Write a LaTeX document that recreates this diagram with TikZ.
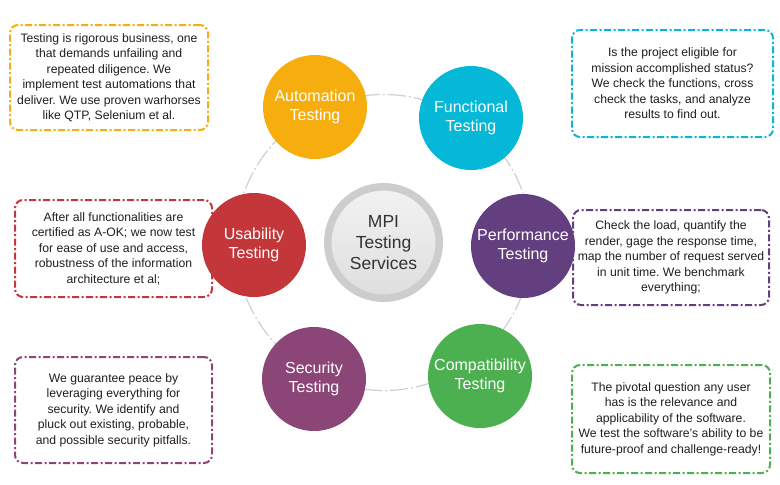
\documentclass[tikz,border=0pt]{standalone}
\usepackage{fontspec}
\setmainfont{Liberation Sans}
\usetikzlibrary{backgrounds}
\frenchspacing
\definecolor{Ink}{HTML}{1E1E1E}
\definecolor{HubInk}{HTML}{333333}
\definecolor{Ring}{HTML}{CDCDCD}
\definecolor{Orbit}{HTML}{CFCFCF}
\definecolor{Orange}{HTML}{F6AE0E}
\definecolor{Cyan}{HTML}{06B8D7}
\definecolor{Red}{HTML}{C3363A}
\definecolor{Purple}{HTML}{643F80}
\definecolor{Plum}{HTML}{8C4577}
\definecolor{Green}{HTML}{4CAF50}

\begin{document}
\begin{tikzpicture}[
  x=1pt,y=-1pt,
  notetext/.style={font=\fontsize{12.2}{15.5}\selectfont,text=Ink,align=center,inner sep=0pt},
  noteorange/.style={notetext,draw=Orange,rounded corners=8pt,line width=2pt,dash pattern=on 7pt off 2.5pt on 2pt off 2.5pt},
  notecyan/.style={notetext,draw=Cyan,rounded corners=8pt,line width=2pt,dash pattern=on 7pt off 2.5pt on 2pt off 2.5pt},
  notered/.style={notetext,draw=Red,rounded corners=8pt,line width=2pt,dash pattern=on 7pt off 2.5pt on 2pt off 2.5pt},
  notepurple/.style={notetext,draw=Purple,rounded corners=8pt,line width=2pt,dash pattern=on 7pt off 2.5pt on 2pt off 2.5pt},
  noteplum/.style={notetext,draw=Plum,rounded corners=8pt,line width=2pt,dash pattern=on 7pt off 2.5pt on 2pt off 2.5pt},
  notegreen/.style={notetext,draw=Green,rounded corners=8pt,line width=2pt,dash pattern=on 7pt off 2.5pt on 2pt off 2.5pt},
  ball/.style={circle,minimum size=104pt,inner sep=0pt,text=white,align=center,font=\fontsize{16}{18.5}\selectfont},
  hub/.style={circle,minimum size=111.5pt,inner sep=0pt,draw=Ring,line width=7.5pt,top color=black!5,bottom color=black!13,text=HubInk,align=center,font=\fontsize{17.5}{21}\selectfont},
  orbit/.style={draw=Orbit,line width=1.2pt,dash pattern=on 18pt off 3pt on 2pt off 3pt}
]
\useasboundingbox (0,0) rectangle (780,485);

% notes
\node[noteorange,minimum width=198pt,minimum height=105pt] (autonote) at (109,77.5)
  {Testing is rigorous business, one\\that demands unfailing and\\repeated diligence. We\\implement test automations that\\deliver. We use proven warhorses\\like QTP, Selenium et al.};
\node[notecyan,minimum width=201pt,minimum height=107pt] (funcnote) at (672.5,83.5)
  {Is the project eligible for\\mission accomplished status?\\We check the functions, cross\\check the tasks, and analyze\\results to find out.};
\node[notered,minimum width=197pt,minimum height=97pt] (usenote) at (113.5,248.5)
  {After all functionalities are\\certified as A-OK; we now test\\for ease of use and access,\\robustness of the information\\architecture et al;};
\node[notepurple,minimum width=196pt,minimum height=95pt] (perfnote) at (671,257.5)
  {Check the load, quantify the\\render, gage the response time,\\map the number of request served\\in unit time. We benchmark\\everything;};
\node[noteplum,minimum width=197pt,minimum height=106pt] (secnote) at (113.5,410)
  {We guarantee peace by\\leveraging everything for\\security. We identify and\\pluck out existing, probable,\\and possible security pitfalls.};
\node[notegreen,minimum width=198pt,minimum height=108pt] (compnote) at (671,419)
  {The pivotal question any user\\has is the relevance and\\applicability of the software.\\We test the software’s ability to be\\future-proof and challenge-ready!};

% hub and ring
\node[hub] (mpi) at (383.5,242.5) {MPI\\Testing\\Services};
\draw[orbit] (mpi.center) circle[radius=148];

% testing kinds
\node[ball,fill=Orange] (auto) at (315,107) {Automation\\Testing};
\node[ball,fill=Cyan] (func) at (471,118) {Functional\\Testing};
\node[ball,fill=Purple] (perf) at (523,246) {Performance\\Testing};
\node[ball,fill=Green] (comp) at (480,376) {Compatibility\\Testing};
\node[ball,fill=Plum] (sec) at (314,379) {Security\\Testing};
\node[ball,fill=Red] (use) at (254,245) {Usability\\Testing};
\end{tikzpicture}
\end{document}
